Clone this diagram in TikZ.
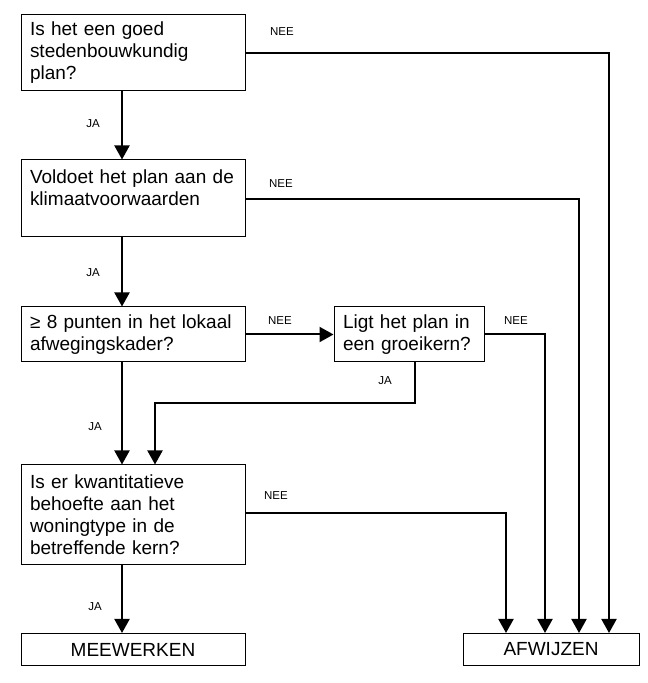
\documentclass[tikz,border=0pt]{standalone}
\usepackage{fontspec}
\setmainfont{Liberation Sans}
\usetikzlibrary{arrows.meta}
\begin{document}
\begin{tikzpicture}[x=1pt,y=1pt,
  box/.style={draw=black,line width=1pt,rectangle,inner xsep=9pt,inner ysep=0pt,
    font=\fontsize{19}{22}\selectfont,align=left},
  wbox/.style={box,text width=206pt,minimum width=224pt},
  endbox/.style={draw=black,line width=1pt,rectangle,inner sep=0pt,
    font=\fontsize{19}{22}\selectfont,align=center},
  lbl/.style={font=\fontsize{11.5}{13}\selectfont,inner sep=0pt},
  conn/.style={line width=2pt,-{Triangle[width=15pt,length=14pt]}},
  plain/.style={line width=2pt}]
\useasboundingbox (0,0) rectangle (648,683);
% boxes
\node[wbox,minimum height=76pt] (q1) at (133,630)
  {Is het een goed\\stedenbouwkundig\\plan?};
\node[wbox,minimum height=77pt] (q2) at (133,484.5)
  {Voldoet het plan aan de\\klimaatvoorwaarden\\\mbox{}};
\node[wbox,minimum height=55pt] (q3) at (133,348.5)
  {≥ 8 punten in het lokaal\\afwegingskader?};
\node[box,text width=132pt,minimum width=150pt,minimum height=55pt] (q4) at (409,348.5)
  {Ligt het plan in\\een groeikern?};
\node[wbox,minimum height=100pt] (q5) at (133,168)
  {Is er kwantitatieve\\behoefte aan het\\woningtype in de\\betreffende kern?};
\node[endbox,minimum width=224pt,minimum height=32pt] (mee) at (133,33.5) {MEEWERKEN};
\node[endbox,minimum width=176pt,minimum height=32pt] (afw) at (551,33.5) {AFWIJZEN};
% corner coordinates
\coordinate (c1) at (609,630);
\coordinate (c2) at (579,484);
\coordinate (c4) at (545,349);
\coordinate (c5) at (506,170);
\coordinate (j4a) at (415,280);
\coordinate (j4b) at (155,280);
% JA arrows
\draw[conn] (q1.south -| 122,0) -- (q2.north -| 122,0);
\draw[conn] (q2.south -| 122,0) -- (q3.north -| 122,0);
\draw[conn] (q3.south -| 122,0) -- (q5.north -| 122,0);
\draw[conn] (q5.south -| 122,0) -- (mee.north -| 122,0);
\draw[conn] (q4.south -| j4a) -- (j4a) -- (j4b) -- (q5.north -| j4b);
% NEE arrows
\draw[conn] (q1.east |- c1) -- (c1) -- (afw.north -| c1);
\draw[conn] (q2.east |- c2) -- (c2) -- (afw.north -| c2);
\draw[conn] (q3.east) -- (q4.west);
\draw[conn] (q4.east |- c4) -- (c4) -- (afw.north -| c4);
\draw[conn] (q5.east |- c5) -- (c5) -- (afw.north -| c5);
% labels
\node[lbl] (n1) at (282,651) {NEE};
\node[lbl] (n2) at (281,499) {NEE};
\node[lbl] (n3) at (280,362) {NEE};
\node[lbl] (n4) at (516,362) {NEE};
\node[lbl] (n5) at (276,187) {NEE};
\node[lbl] (a1) at (93,559) {JA};
\node[lbl] (a2) at (93,410) {JA};
\node[lbl] (a3) at (95,256) {JA};
\node[lbl] (a4) at (385,302) {JA};
\node[lbl] (a5) at (95,76) {JA};
\end{tikzpicture}
\end{document}
